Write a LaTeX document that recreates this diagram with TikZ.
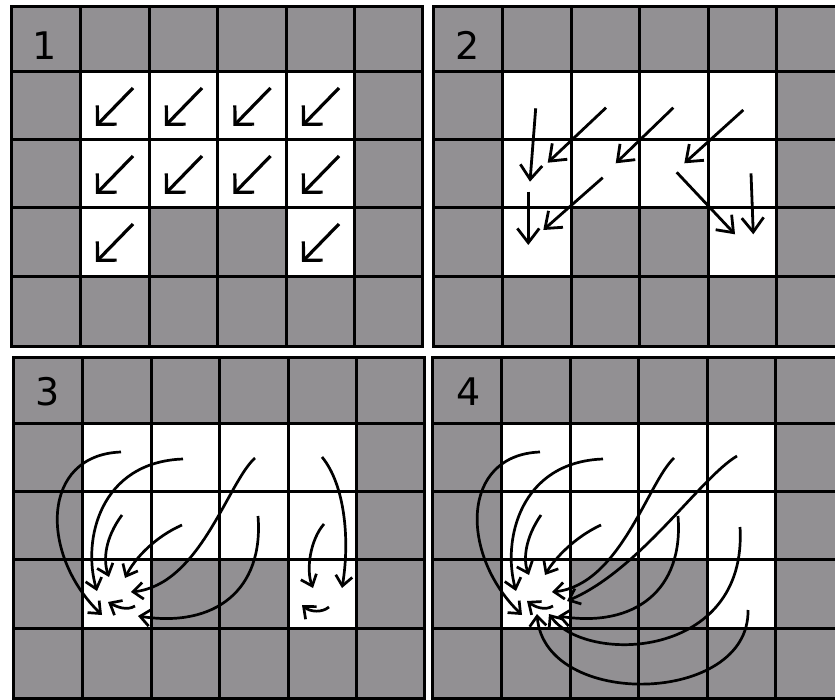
\documentclass[tikz,border=0pt]{standalone}
\usepackage{fontspec}
\newfontfamily\labelfont{DejaVu Sans}
\usetikzlibrary{arrows.meta}
\definecolor{cellgray}{RGB}{146,144,147}
\tikzset{
  gridline/.style={line width=3pt, draw=black},
  arrA/.style={line width=3.2pt, -{Straight Barb[angle=90:19pt]}},
  arrB/.style={line width=2.8pt, -{Straight Barb[angle=75:18pt]}},
  arrC/.style={line width=2.7pt, -{Straight Barb[angle=80:13pt]}},
  panellabel/.style={anchor=base, inner sep=0pt, font=\labelfont\fontsize{38}{40}\selectfont},
}
\newcommand\gridpanel[2]{%
  \fill[cellgray] (#1,#2) rectangle ++(411,340);
  \fill[white] (#1+69,#2+65) rectangle (#1+343,#2+201);
  \fill[white] (#1+69,#2+201) rectangle (#1+138,#2+270);
  \fill[white] (#1+275,#2+201) rectangle (#1+343,#2+270);
  \foreach \dx in {69,138,206.5,275,343}
    \draw[gridline] (#1+\dx,#2) -- (#1+\dx,#2+340);
  \foreach \dy in {65,133,201,270}
    \draw[gridline] (#1,#2+\dy) -- (#1+411,#2+\dy);
  \draw[gridline] (#1,#2) rectangle ++(411,340);
}
\begin{document}
\begin{tikzpicture}[x=1pt,y=-1pt]
\useasboundingbox (0,0) rectangle (835,700);
\clip (0,0) rectangle (835,700);
% panels
\gridpanel{11}{7}
\gridpanel{433}{7}
\gridpanel{13}{358}
\gridpanel{432}{358}
% labels
\node[panellabel] (lab1) at (45,60) {1};
\node[panellabel] (lab2) at (468,60) {2};
\node[panellabel] (lab3) at (48,405) {3};
\node[panellabel] (lab4) at (469,405) {4};
% panel 1 arrows
\foreach \cx/\cy in {80/72,149/72,217.5/72,286/72,80/140,149/140,217.5/140,286/140,80/208,286/208}
  \draw[arrA] (\cx+53,\cy+16) -- (\cx+16,\cy+54);
% panel 2 arrows
\draw[arrB] (535.7,108.3) -- (530,181.7);
\draw[arrB] (606,107.7) -- (547.7,162.7);
\draw[arrB] (673.3,107.7) -- (615.7,163.3);
\draw[arrB] (743.3,110) -- (684.3,163.3);
\draw[arrB] (528.3,191.7) -- (528.3,245);
\draw[arrB] (602.7,177.7) -- (543.3,230);
\draw[arrB] (676.7,172.3) -- (735,234.3);
\draw[arrB] (751,173.3) -- (753.3,234.3);
% panel 3 arrows
\draw[arrC] (121,452) .. controls (40,455) and (40,555) .. (102,615);
\draw[arrC] (183,459) .. controls (100,462) and (82,540) .. (97,591);
\draw[arrC] (122,515) .. controls (105,538) and (103,560) .. (109,577);
\draw[arrC] (182,525) .. controls (155,537) and (135,558) .. (125,578);
\draw[arrC] (255,458) .. controls (228,482) and (200,585) .. (131,592);
\draw[arrC] (258,516) .. controls (264,590) and (215,628) .. (138,616);
\draw[arrC] (135,606) .. controls (127,611) and (117,607) .. (108,602);
\draw[arrC] (322,457) .. controls (345,485) and (350,540) .. (342,588);
\draw[arrC] (324,524) .. controls (310,540) and (306,570) .. (313,588);
\draw[arrC] (329,607) .. controls (322,613) and (310,612) .. (302,605);
% panel 4 arrows
\draw[arrC] (540,452) .. controls (460,455) and (460,555) .. (522,615);
\draw[arrC] (603,459) .. controls (520,462) and (502,540) .. (516,591);
\draw[arrC] (541,515) .. controls (525,538) and (523,560) .. (529,575);
\draw[arrC] (601,525) .. controls (575,537) and (555,558) .. (545,575);
\draw[arrC] (674,458) .. controls (648,482) and (620,585) .. (552,592);
\draw[arrC] (737,456) .. controls (700,478) and (640,570) .. (567,601);
\draw[arrC] (678,516) .. controls (684,590) and (635,628) .. (558,616);
\draw[arrC] (740,527) .. controls (748,660) and (585,665) .. (549,614);
\draw[arrC] (748,610) .. controls (750,705) and (545,710) .. (537,614);
\draw[arrC] (553,606) .. controls (545,611) and (535,607) .. (527,601);
\end{tikzpicture}
\end{document}
